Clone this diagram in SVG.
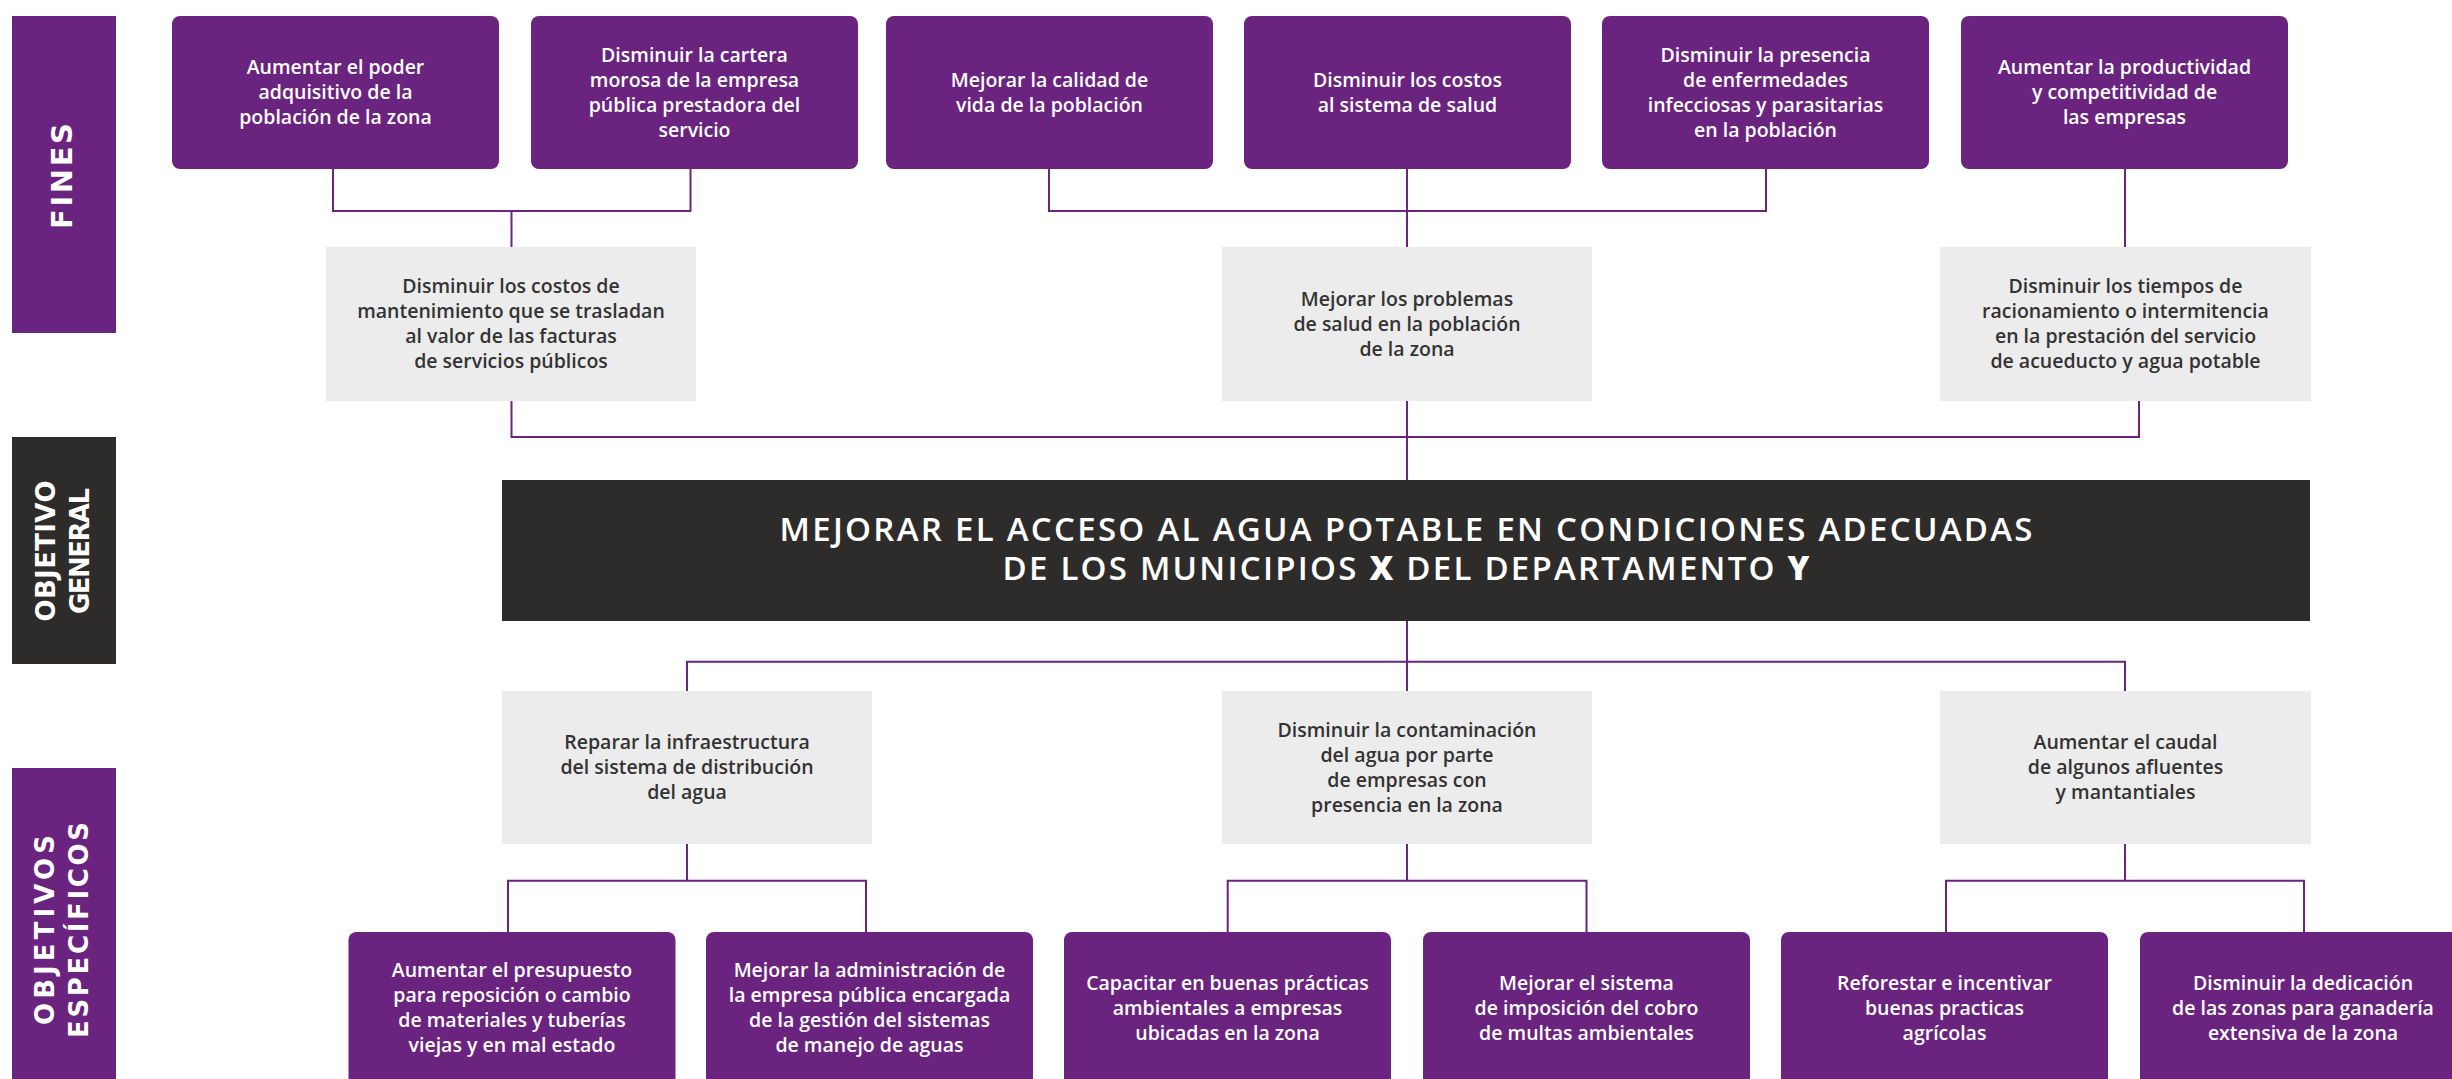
<svg xmlns="http://www.w3.org/2000/svg" width="2452" height="1079" viewBox="0 0 2452 1079">
<style>
.pbox{fill:#6A237F}
.gbox{fill:#ECECEC}
.dbox{fill:#2E2C2B}
.t{font-family:"Open Sans","Noto Sans","Liberation Sans",sans-serif;font-size:19.5px;font-weight:600;text-anchor:middle}
.tw{fill:#FFFFFF}
.tg{fill:#333333}
.side{font-family:"DejaVu Sans","Open Sans","Liberation Sans",sans-serif;font-weight:700;fill:#FFFFFF;text-anchor:middle;font-size:26px}
.title{font-family:"Open Sans","Noto Sans","Liberation Sans",sans-serif;font-weight:600;fill:#FFFFFF;text-anchor:middle;font-size:33px}
.conn{fill:none;stroke:#6A237F;stroke-width:2}
</style>
<rect width="2452" height="1079" fill="#FFFFFF"/>

<g id="label-fines">
<rect class="pbox" x="12" y="16" width="104" height="317"/>
<text class="side" style="font-size:29px" textLength="106" lengthAdjust="spacing" transform="translate(71.5,176) rotate(-90)">FINES</text>
</g>
<g id="label-objetivo-general">
<rect class="dbox" x="12" y="437" width="104" height="227"/>
<text class="side" textLength="141" lengthAdjust="spacing" transform="translate(55,551) rotate(-90)">OBJETIVO</text>
<text class="side" textLength="126" lengthAdjust="spacing" transform="translate(89,551) rotate(-90)">GENERAL</text>
</g>
<g id="label-objetivos-especificos">
<rect class="pbox" x="12" y="768" width="104" height="320"/>
<text class="side" textLength="190" lengthAdjust="spacing" transform="translate(54,930) rotate(-90)">OBJETIVOS</text>
<text class="side" textLength="216" lengthAdjust="spacing" transform="translate(88,930) rotate(-90)">ESPECÍFICOS</text>
</g>

<g id="connectors">
<path class="conn" d="M333,169 V211 H690.5 V169 M511.5,211 V247"/>
<path class="conn" d="M1049,169 V211 H1766 V169 M1407,169 V247"/>
<path class="conn" d="M2125,169 V247"/>
<path class="conn" d="M511.5,401 V437 H2139 V401 M1407,401 V480"/>
<path class="conn" d="M687,691 V661.7 H2125 V691 M1407,621 V691"/>
<path class="conn" d="M687,844 V880.7 M508,932 V880.7 H866 V932"/>
<path class="conn" d="M1407,844 V880.7 M1227.7,932 V880.7 H1586.5 V932"/>
<path class="conn" d="M2125,844 V880.7 M1946,932 V880.7 H2304 V932"/>
</g>

<g id="fin-1">
<rect class="pbox" x="172" y="16" width="327" height="153" rx="8"/>
<text class="t tw"><tspan x="335.5" y="74">Aumentar el poder</tspan><tspan x="335.5" y="99">adquisitivo de la</tspan><tspan x="335.5" y="124">población de la zona</tspan></text>
</g>
<g id="fin-2">
<rect class="pbox" x="531" y="16" width="327" height="153" rx="8"/>
<text class="t tw"><tspan x="694.5" y="61.5">Disminuir la cartera</tspan><tspan x="694.5" y="86.5">morosa de la empresa</tspan><tspan x="694.5" y="111.5">pública prestadora del</tspan><tspan x="694.5" y="136.5">servicio</tspan></text>
</g>
<g id="fin-3">
<rect class="pbox" x="886" y="16" width="327" height="153" rx="8"/>
<text class="t tw"><tspan x="1049.5" y="86.5">Mejorar la calidad de</tspan><tspan x="1049.5" y="111.5">vida de la población</tspan></text>
</g>
<g id="fin-4">
<rect class="pbox" x="1244" y="16" width="327" height="153" rx="8"/>
<text class="t tw"><tspan x="1407.5" y="86.5">Disminuir los costos</tspan><tspan x="1407.5" y="111.5">al sistema de salud</tspan></text>
</g>
<g id="fin-5">
<rect class="pbox" x="1602" y="16" width="327" height="153" rx="8"/>
<text class="t tw"><tspan x="1765.5" y="61.5">Disminuir la presencia</tspan><tspan x="1765.5" y="86.5">de enfermedades</tspan><tspan x="1765.5" y="111.5">infecciosas y parasitarias</tspan><tspan x="1765.5" y="136.5">en la población</tspan></text>
</g>
<g id="fin-6">
<rect class="pbox" x="1961" y="16" width="327" height="153" rx="8"/>
<text class="t tw"><tspan x="2124.5" y="74">Aumentar la productividad</tspan><tspan x="2124.5" y="99">y competitividad de</tspan><tspan x="2124.5" y="124">las empresas</tspan></text>
</g>

<g id="fin-mid-1">
<rect class="gbox" x="326" y="247" width="370" height="154"/>
<text class="t tg"><tspan x="511" y="293">Disminuir los costos de</tspan><tspan x="511" y="318">mantenimiento que se trasladan</tspan><tspan x="511" y="343">al valor de las facturas</tspan><tspan x="511" y="368">de servicios públicos</tspan></text>
</g>
<g id="fin-mid-2">
<rect class="gbox" x="1222" y="247" width="370" height="154"/>
<text class="t tg"><tspan x="1407" y="305.5">Mejorar los problemas</tspan><tspan x="1407" y="330.5">de salud en la población</tspan><tspan x="1407" y="355.5">de la zona</tspan></text>
</g>
<g id="fin-mid-3">
<rect class="gbox" x="1940" y="247" width="371" height="154"/>
<text class="t tg"><tspan x="2125.5" y="293">Disminuir los tiempos de</tspan><tspan x="2125.5" y="318">racionamiento o intermitencia</tspan><tspan x="2125.5" y="343">en la prestación del servicio</tspan><tspan x="2125.5" y="368">de acueducto y agua potable</tspan></text>
</g>

<g id="objetivo-general">
<rect class="dbox" x="502" y="480" width="1808" height="141"/>
<text class="title" x="1406" y="541" textLength="1253" lengthAdjust="spacing">MEJORAR EL ACCESO AL AGUA POTABLE EN CONDICIONES ADECUADAS</text>
<text class="title" x="1406" y="580" textLength="807" lengthAdjust="spacing">DE LOS MUNICIPIOS <tspan font-weight="800">X</tspan> DEL DEPARTAMENTO <tspan font-weight="800">Y</tspan></text>
</g>

<g id="obj-1">
<rect class="gbox" x="502" y="691" width="370" height="153"/>
<text class="t tg"><tspan x="687" y="749">Reparar la infraestructura</tspan><tspan x="687" y="774">del sistema de distribución</tspan><tspan x="687" y="799">del agua</tspan></text>
</g>
<g id="obj-2">
<rect class="gbox" x="1222" y="691" width="370" height="153"/>
<text class="t tg"><tspan x="1407" y="736.5">Disminuir la contaminación</tspan><tspan x="1407" y="761.5">del agua por parte</tspan><tspan x="1407" y="786.5">de empresas con</tspan><tspan x="1407" y="811.5">presencia en la zona</tspan></text>
</g>
<g id="obj-3">
<rect class="gbox" x="1940" y="691" width="371" height="153"/>
<text class="t tg"><tspan x="2125.5" y="749">Aumentar el caudal</tspan><tspan x="2125.5" y="774">de algunos afluentes</tspan><tspan x="2125.5" y="799">y mantantiales</tspan></text>
</g>

<g id="act-1">
<rect class="pbox" x="348.5" y="932" width="327" height="160" rx="8"/>
<text class="t tw"><tspan x="512" y="977">Aumentar el presupuesto</tspan><tspan x="512" y="1002">para reposición o cambio</tspan><tspan x="512" y="1027">de materiales y tuberías</tspan><tspan x="512" y="1052">viejas y en mal estado</tspan></text>
</g>
<g id="act-2">
<rect class="pbox" x="706" y="932" width="327" height="160" rx="8"/>
<text class="t tw"><tspan x="869.5" y="977">Mejorar la administración de</tspan><tspan x="869.5" y="1002">la empresa pública encargada</tspan><tspan x="869.5" y="1027">de la gestión del sistemas</tspan><tspan x="869.5" y="1052">de manejo de aguas</tspan></text>
</g>
<g id="act-3">
<rect class="pbox" x="1064" y="932" width="327" height="160" rx="8"/>
<text class="t tw"><tspan x="1227.5" y="989.5">Capacitar en buenas prácticas</tspan><tspan x="1227.5" y="1014.5">ambientales a empresas</tspan><tspan x="1227.5" y="1039.5">ubicadas en la zona</tspan></text>
</g>
<g id="act-4">
<rect class="pbox" x="1423" y="932" width="327" height="160" rx="8"/>
<text class="t tw"><tspan x="1586.5" y="989.5">Mejorar el sistema</tspan><tspan x="1586.5" y="1014.5">de imposición del cobro</tspan><tspan x="1586.5" y="1039.5">de multas ambientales</tspan></text>
</g>
<g id="act-5">
<rect class="pbox" x="1781" y="932" width="327" height="160" rx="8"/>
<text class="t tw"><tspan x="1944.5" y="989.5">Reforestar e incentivar</tspan><tspan x="1944.5" y="1014.5">buenas practicas</tspan><tspan x="1944.5" y="1039.5">agrícolas</tspan></text>
</g>
<g id="act-6">
<rect class="pbox" x="2140" y="932" width="327" height="160" rx="8"/>
<text class="t tw"><tspan x="2303" y="989.5">Disminuir la dedicación</tspan><tspan x="2303" y="1014.5">de las zonas para ganadería</tspan><tspan x="2303" y="1039.5">extensiva de la zona</tspan></text>
</g>
</svg>
